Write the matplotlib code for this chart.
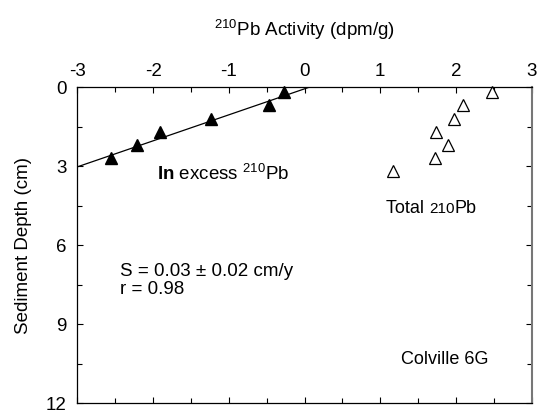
import numpy as np
import matplotlib
matplotlib.use("Agg")
import matplotlib.pyplot as plt
from matplotlib.ticker import MultipleLocator
from matplotlib.offsetbox import TextArea, HPacker, AnnotationBbox

plt.rcParams['font.family'] = ['Liberation Sans', 'DejaVu Sans']
plt.rcParams['mathtext.fontset'] = 'custom'
plt.rcParams['mathtext.rm'] = 'Liberation Sans'
plt.rcParams['mathtext.bf'] = 'Liberation Sans:bold'
plt.rcParams['axes.unicode_minus'] = False

# excess 210Pb (filled) and total 210Pb (open)
excess_x = [-0.27, -0.47, -1.23, -1.91, -2.22, -2.56]
excess_depth = [0.2, 0.7, 1.2, 1.7, 2.2, 2.7]
total_x = [2.48, 2.09, 1.98, 1.74, 1.90, 1.73, 1.17]
total_depth = [0.2, 0.7, 1.2, 1.7, 2.2, 2.7, 3.2]
fit_x = [-3.0, 0.07]
fit_depth = [3.03, 0.0]

fig = plt.figure(figsize=(5.37, 4.13), dpi=100)
ax = fig.add_axes([0.1443, 0.0242, 0.8455, 0.7651])

ax.plot(fit_x, fit_depth, color='black', lw=0.9)
ax.plot(excess_x, excess_depth, '^', color='black', ms=8.5, clip_on=False)
ax.plot(total_x, total_depth, '^', mfc='white', mec='black', mew=0.9, ms=8.5, clip_on=False)

ax.set_xlim(-3, 3)
ax.set_ylim(12, 0)
ax.xaxis.set_major_locator(MultipleLocator(1))
ax.xaxis.set_minor_locator(MultipleLocator(0.5))
ax.yaxis.set_major_locator(MultipleLocator(3))
ax.yaxis.set_minor_locator(MultipleLocator(1.5))
ax.tick_params(which='both', direction='in', top=True, bottom=True, left=True, right=True,
               labeltop=True, labelbottom=False, labelsize=13.5, width=0.8)
ax.tick_params(which='major', length=4)
ax.tick_params(which='minor', length=3.5)
ax.tick_params(axis='x', which='major', pad=5)
ax.tick_params(axis='y', which='major', pad=8)
ax.xaxis.set_label_position('top')
ax.set_xlabel('$^{210}$Pb Activity (dpm/g)', fontsize=13.5, labelpad=19.5)
ax.set_ylabel('Sediment Depth (cm)', fontsize=13.5, labelpad=10)
for s in ax.spines.values():
    s.set_linewidth(0.9)
ax.spines['right'].set_color('#777777')
ax.spines['right'].set_linewidth(1.5)

ax.text(-1.95, 3.3, r'$\mathbf{In}$ excess $^{210}$Pb', fontsize=13.5, va='center')
ax.text(-2.44, 7.35, 'S = 0.03 \u00b1 0.02 cm/y\nr = 0.98', fontsize=13.5, va='center',
        linespacing=1.1)
ax.text(1.28, 10.35, 'Colville 6G', fontsize=13, va='center')

parts = HPacker(children=[TextArea('Total ', textprops=dict(fontsize=13)),
                          TextArea('210', textprops=dict(fontsize=11)),
                          TextArea('Pb', textprops=dict(fontsize=13))],
                align='baseline', pad=0, sep=0)
ab = AnnotationBbox(parts, (1.08, 4.6), xycoords='data', box_alignment=(0, 0.5),
                    frameon=False)
ax.add_artist(ab)

fig.savefig('out.png', dpi=100)
